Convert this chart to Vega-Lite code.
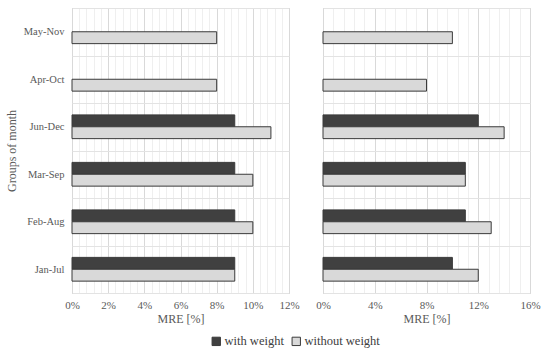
{
  "$schema": "https://vega.github.io/schema/vega-lite/v6.json",
  "padding": {"left": 4, "top": 2, "right": 5, "bottom": 5},
  "config": {
    "font": "Liberation Serif",
    "view": {"stroke": "#bfbfbf", "strokeWidth": 1},
    "axis": {
      "labelFont": "Liberation Serif",
      "titleFont": "Liberation Serif",
      "labelColor": "#595959",
      "titleColor": "#595959",
      "labelFontSize": 11,
      "titleFontSize": 12,
      "titleFontWeight": "normal",
      "domain": false,
      "ticks": false
    },
    "legend": {
      "labelFont": "Liberation Serif",
      "labelFontSize": 12.5,
      "labelColor": "#404040"
    }
  },
  "datasets": {
    "left": [
      {"group": "Jan-Jul", "series": "with weight", "mre": 9},
      {"group": "Jan-Jul", "series": "without weight", "mre": 9},
      {"group": "Feb-Aug", "series": "with weight", "mre": 9},
      {"group": "Feb-Aug", "series": "without weight", "mre": 10},
      {"group": "Mar-Sep", "series": "with weight", "mre": 9},
      {"group": "Mar-Sep", "series": "without weight", "mre": 10},
      {"group": "Jun-Dec", "series": "with weight", "mre": 9},
      {"group": "Jun-Dec", "series": "without weight", "mre": 11},
      {"group": "Apr-Oct", "series": "without weight", "mre": 8},
      {"group": "May-Nov", "series": "without weight", "mre": 8}
    ],
    "right": [
      {"group": "Jan-Jul", "series": "with weight", "mre": 10},
      {"group": "Jan-Jul", "series": "without weight", "mre": 12},
      {"group": "Feb-Aug", "series": "with weight", "mre": 11},
      {"group": "Feb-Aug", "series": "without weight", "mre": 13},
      {"group": "Mar-Sep", "series": "with weight", "mre": 11},
      {"group": "Mar-Sep", "series": "without weight", "mre": 11},
      {"group": "Jun-Dec", "series": "with weight", "mre": 12},
      {"group": "Jun-Dec", "series": "without weight", "mre": 14},
      {"group": "Apr-Oct", "series": "without weight", "mre": 8},
      {"group": "May-Nov", "series": "without weight", "mre": 10}
    ]
  },
  "spacing": 34,
  "bounds": "flush",
  "resolve": {"scale": {"x": "independent"}},
  "hconcat": [
    {
      "data": {"name": "left"},
      "width": 217,
      "height": 285,
      "mark": {"type": "bar", "stroke": "#3a3a3a", "strokeWidth": 1},
      "encoding": {
        "y": {
          "field": "group",
          "type": "nominal",
          "sort": ["May-Nov", "Apr-Oct", "Jun-Dec", "Mar-Sep", "Feb-Aug", "Jan-Jul"],
          "scale": {"paddingInner": 0, "paddingOuter": 0},
          "axis": {"title": "Groups of month", "grid": true, "tickBand": "extent", "gridColor": "#e3e3e3", "labelFontSize": 10.5, "labelPadding": 8, "titlePadding": 5}
        },
        "yOffset": {
          "field": "series",
          "sort": ["with weight", "without weight"],
          "scale": {"paddingInner": 0, "paddingOuter": 1.065}
        },
        "x": {
          "field": "mre",
          "type": "quantitative",
          "scale": {"domain": [0, 12], "nice": false},
          "axis": {
            "title": "MRE [%]",
            "values": [0, 0.4, 0.8, 1.2, 1.6, 2, 2.4, 2.8, 3.2, 3.6, 4, 4.4, 4.8, 5.2, 5.6, 6, 6.4, 6.8, 7.2, 7.6, 8, 8.4, 8.8, 9.2, 9.6, 10, 10.4, 10.8, 11.2, 11.6, 12],
            "labelExpr": "abs(datum.value/2 - round(datum.value/2)) < 0.001 ? datum.value + '%' : ''",
            "labelOverlap": false,
            "labelFlush": false,
            "labelPadding": 6,
            "titlePadding": 3,
            "grid": true,
            "gridColor": {"condition": {"test": "abs(datum.value/2 - round(datum.value/2)) < 0.001", "value": "#d9d9d9"}, "value": "#efefef"}
          }
        },
        "color": {
          "field": "series",
          "type": "nominal",
          "scale": {"domain": ["with weight", "without weight"], "range": ["#404040", "#d9d9d9"]},
          "legend": {
            "title": null,
            "orient": "none",
            "direction": "horizontal",
            "legendX": 138,
            "legendY": 327,
            "symbolType": "square",
            "symbolSize": 70,
            "symbolStrokeColor": "#262626",
            "symbolStrokeWidth": 1,
            "labelOffset": 2,
            "columnPadding": 6
          }
        }
      }
    },
    {
      "data": {"name": "right"},
      "width": 207,
      "height": 285,
      "mark": {"type": "bar", "stroke": "#3a3a3a", "strokeWidth": 1},
      "encoding": {
        "y": {
          "field": "group",
          "type": "nominal",
          "sort": ["May-Nov", "Apr-Oct", "Jun-Dec", "Mar-Sep", "Feb-Aug", "Jan-Jul"],
          "scale": {"paddingInner": 0, "paddingOuter": 0},
          "axis": {"title": null, "labels": false, "grid": true, "tickBand": "extent", "gridColor": "#e3e3e3"}
        },
        "yOffset": {
          "field": "series",
          "sort": ["with weight", "without weight"],
          "scale": {"paddingInner": 0, "paddingOuter": 1.065}
        },
        "x": {
          "field": "mre",
          "type": "quantitative",
          "scale": {"domain": [0, 16], "nice": false},
          "axis": {
            "title": "MRE [%]",
            "values": [0, 0.8, 1.6, 2.4, 3.2, 4, 4.8, 5.6, 6.4, 7.2, 8, 8.8, 9.6, 10.4, 11.2, 12, 12.8, 13.6, 14.4, 15.2, 16],
            "labelExpr": "abs(datum.value/4 - round(datum.value/4)) < 0.001 ? datum.value + '%' : ''",
            "labelOverlap": false,
            "labelFlush": false,
            "labelPadding": 6,
            "titlePadding": 3,
            "grid": true,
            "gridColor": {"condition": {"test": "abs(datum.value/4 - round(datum.value/4)) < 0.001", "value": "#d9d9d9"}, "value": "#efefef"}
          }
        },
        "color": {
          "field": "series",
          "type": "nominal",
          "scale": {"domain": ["with weight", "without weight"], "range": ["#404040", "#d9d9d9"]}
        }
      }
    }
  ]
}
